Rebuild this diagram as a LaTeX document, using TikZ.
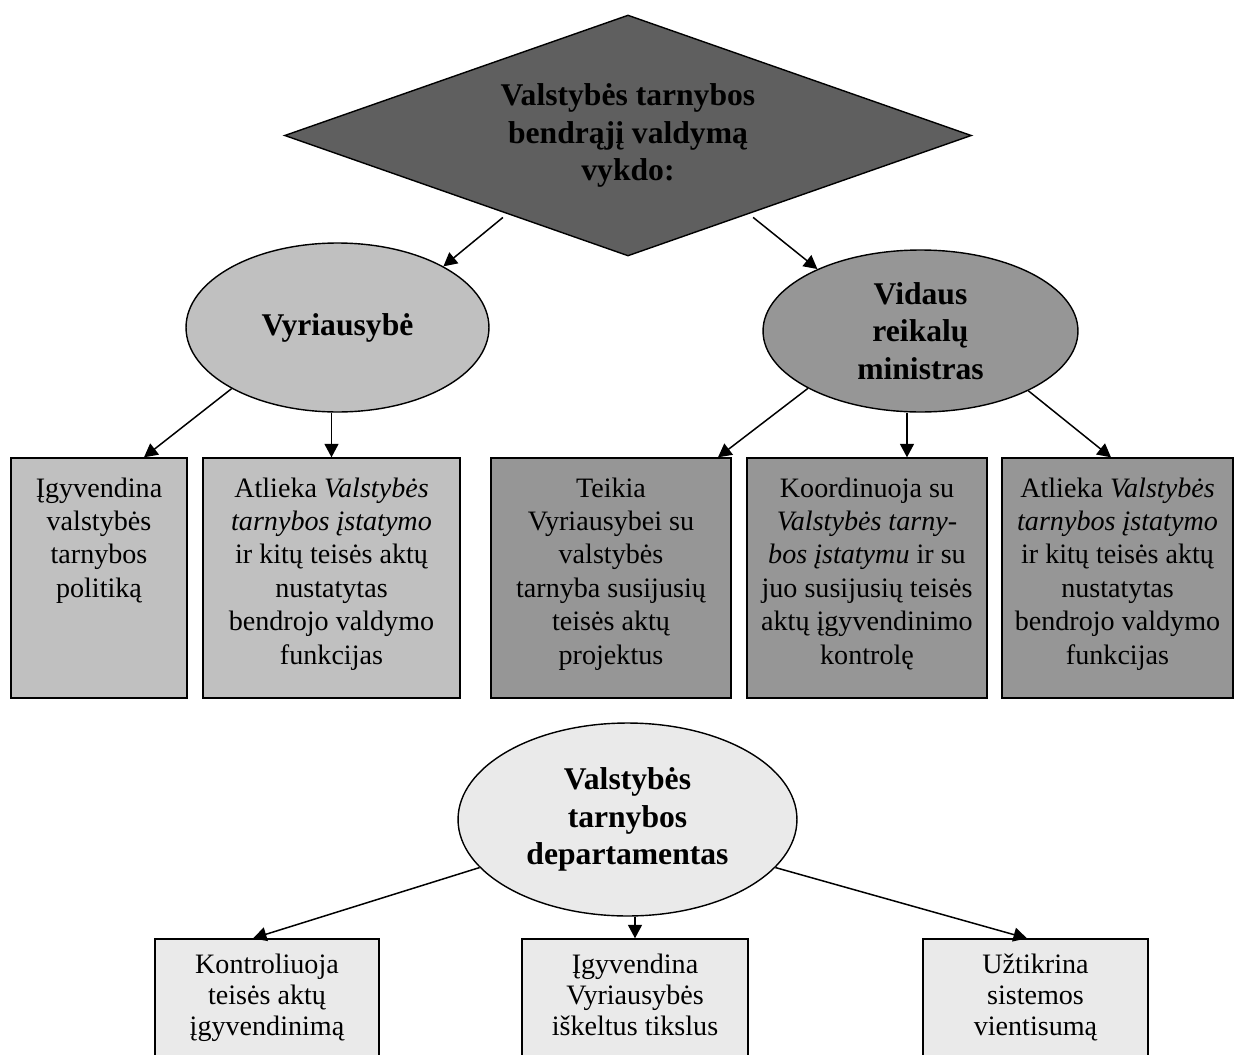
\documentclass[tikz,border=0pt]{standalone}
\usepackage{fontspec}
\setmainfont{Liberation Serif}
\usetikzlibrary{shapes.geometric,positioning,arrows.meta}

\definecolor{topgray}{HTML}{5F5F5F}
\definecolor{govgray}{HTML}{C0C0C0}
\definecolor{mingray}{HTML}{969696}
\definecolor{depgray}{HTML}{EAEAEA}

\begin{document}
\begin{tikzpicture}[
  x=0.02cm, y=-0.02cm,
  head/.style={align=center, inner sep=0pt, draw, line width=0.8pt, font=\fontsize{18}{21.5}\selectfont\bfseries},
  oval/.style={head, ellipse},
  box/.style={rectangle, draw, line width=0.8pt, inner sep=0pt, minimum height=4.8cm},
  lowbox/.style={rectangle, draw, line width=0.8pt, inner sep=0pt, minimum height=2.42cm, fill=depgray},
  boxtext/.style={align=center, inner sep=0pt, font=\fontsize{16}{19}\selectfont},
  lowtext/.style={align=center, inner sep=0pt, font=\fontsize{16}{17.5}\selectfont},
  arrow/.style={-{Triangle[length=0.27cm, width=0.28cm]}, line width=0.85pt},
]
\useasboundingbox (0,0) rectangle (1235,1055);

% === TOP ===
\node[head, diamond, aspect=2.86, fill=topgray, minimum width=13.74cm, minimum height=4.82cm] (dmd) at (628,135.5)
  {Valstybės tarnybos\\bendrąjį valdymą\\vykdo:};

\node[oval, fill=govgray, minimum width=6.06cm, minimum height=3.38cm] (vyr) at (337.5,327.5) {Vyriausybė};
\node[oval, fill=mingray, minimum width=6.3cm, minimum height=3.24cm] (vid) at (920.5,331) {Vidaus\\reikalų\\ministras};

\draw[arrow, shorten <=3pt] (dmd.213) -- (vyr.30);
\draw[arrow, shorten <=3pt] (dmd.327) -- (vid.149);

% === FUNCTIONS ===
\node[box, fill=govgray, minimum width=3.52cm] (b1) at (99,578) {};
\node[box, fill=govgray, minimum width=5.14cm] (b2) at (331.5,578) {};
\node[box, fill=mingray, minimum width=4.8cm] (b3) at (611,578) {};
\node[box, fill=mingray, minimum width=4.8cm] (b4) at (867,578) {};
\node[box, fill=mingray, minimum width=4.62cm] (b5) at (1117.5,578) {};

\node[boxtext, below=0.4cm of b1.north] (b1t) {Įgyvendina\\valstybės\\tarnybos\\politiką};
\node[boxtext, below=0.4cm of b2.north] (b2t) {Atlieka \textit{Valstybės}\\\textit{tarnybos įstatymo}\\ir kitų teisės aktų\\nustatytas\\bendrojo valdymo\\funkcijas};
\node[boxtext, below=0.4cm of b3.north] (b3t) {Teikia\\Vyriausybei su\\valstybės\\tarnyba susijusių\\teisės aktų\\projektus};
\node[boxtext, below=0.4cm of b4.north] (b4t) {Koordinuoja su\\\textit{Valstybės tarny-}\\\textit{bos įstatymu} ir su\\juo susijusių teisės\\aktų įgyvendinimo\\kontrolę};
\node[boxtext, below=0.4cm of b5.north] (b5t) {Atlieka \textit{Valstybės}\\\textit{tarnybos įstatymo}\\ir kitų teisės aktų\\nustatytas\\bendrojo valdymo\\funkcijas};

\coordinate (t1) at ([xshift=0.9cm]b1.north);
\coordinate (t3) at ([xshift=2.14cm]b3.north);
\coordinate (t4) at ([xshift=0.8cm]b4.north);
\coordinate (t5) at ([xshift=-0.13cm]b5.north);

\draw[arrow] (vyr.210) -- (t1);
\draw[arrow] (vyr.south -| b2.north) -- (b2.north);
\draw[arrow] (vid.207) -- (t3);
\draw[arrow] (vid.south -| t4) -- (t4);
\draw[arrow] (vid.331) -- (t5);

% === DEPARTMENT ===
\node[oval, fill=depgray, minimum width=6.78cm, minimum height=3.86cm] (dep) at (627.5,819.5) {Valstybės\\tarnybos\\departamentas};

\node[lowbox, minimum width=4.48cm] (ba) at (267,999.5) {};
\node[lowbox, minimum width=4.52cm] (bb) at (635,999.5) {};
\node[lowbox, minimum width=4.5cm] (bc) at (1035.5,999.5) {};

\node[lowtext, below=0.31cm of ba.north] (bat) {Kontroliuoja\\teisės aktų\\įgyvendinimą};
\node[lowtext, below=0.31cm of bb.north] (bbt) {Įgyvendina\\Vyriausybės\\iškeltus tikslus};
\node[lowtext, below=0.31cm of bc.north] (bct) {Užtikrina\\sistemos\\vientisumą};

\coordinate (ta) at ([xshift=-0.28cm]ba.north);
\coordinate (tc) at ([xshift=-0.17cm]bc.north);

\draw[arrow] (dep.198) -- (ta);
\draw[arrow] (dep.south -| bb.north) -- (bb.north);
\draw[arrow] (dep.342) -- (tc);
\end{tikzpicture}
\end{document}
